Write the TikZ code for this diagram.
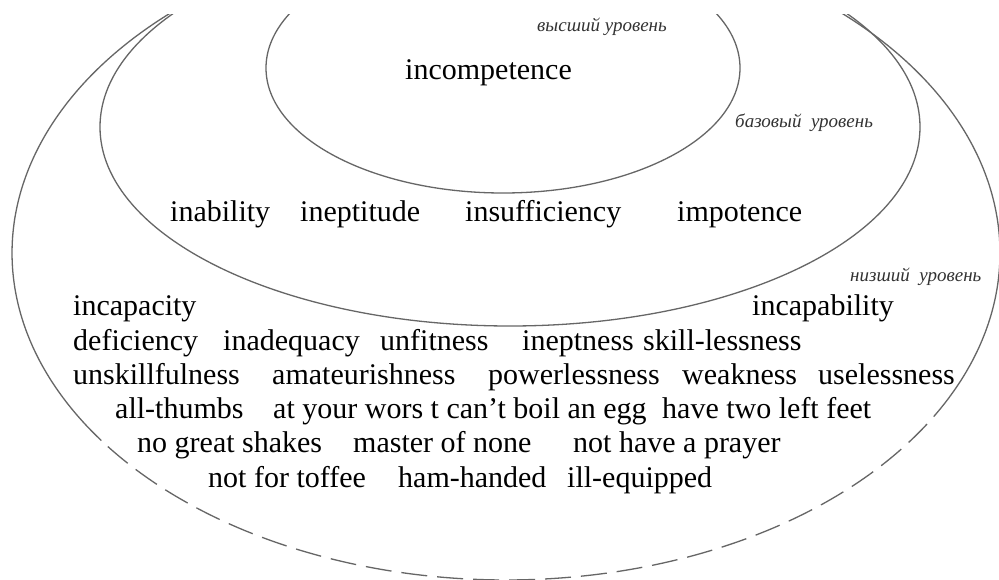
\documentclass[tikz,border=0pt]{standalone}
\usepackage{fontspec}
\setmainfont{Liberation Serif}
\begin{document}
\begin{tikzpicture}[x=1pt,y=-1pt,
  word/.style={anchor=base west, inner sep=0pt, font=\fontsize{30}{36}\selectfont, text=black},
  lvl/.style={anchor=base west, inner sep=0pt, font=\fontsize{19}{22}\selectfont\itshape, text=black!80},
  ring/.style={draw=black!60, line width=1.3pt},
  dashring/.style={ring, dash pattern=on 26pt off 10pt}]
\useasboundingbox[fill=white] (0,0) rectangle (999,580);
\begin{scope}
\clip (0,15) rectangle (999,581);
\draw[ring] (503,68) ellipse [x radius=237, y radius=125];
\draw[ring] (510,127) ellipse [x radius=410, y radius=199];
\draw[ring] plot[domain=145:386, samples=160, smooth] ({506+494*cos(\x)},{253+327*sin(\x)});
\draw[dashring] plot[domain=26:145, samples=100, smooth] ({506+494*cos(\x)},{253+327*sin(\x)});
\end{scope}
% level labels
\node[lvl] (top) at (537,32) {высший уровень};
\node[lvl] (base) at (735,128) {базовый\ \ уровень};
\node[lvl] (low) at (850,282) {низший\ \ уровень};
% top level
\node[word] (w0) at (405,80) {incompetence};
% base level
\node[word] (b1) at (170,222) {inability};
\node[word] (b2) at (300,222) {ineptitude};
\node[word] (b3) at (465,222) {insufficiency};
\node[word] (b4) at (677,222) {impotence};
% lower level
\node[word] (l1) at (73,316) {incapacity};
\node[word] (l2) at (752,316) {incapability};
\node[word] (l3) at (73,350) {deficiency};
\node[word] (l4) at (223,350) {inadequacy};
\node[word] (l5) at (380,350) {unfitness};
\node[word] (l6) at (522,350) {ineptness};
\node[word] (l7) at (643,350) {skill-lessness};
\node[word] (l8) at (73,384) {unskillfulness};
\node[word] (l9) at (272,384) {amateurishness};
\node[word] (l10) at (488,384) {powerlessness};
\node[word] (l11) at (682,384) {weakness};
\node[word] (l12) at (818,384) {uselessness};
\node[word] (l13) at (115,418) {all-thumbs};
\node[word] (l14) at (273,418) {at your wors t can’t boil an egg};
\node[word] (l15) at (662,418) {have two left feet};
\node[word] (l16) at (137,452) {no great shakes};
\node[word] (l17) at (353,452) {master of none};
\node[word] (l18) at (573,452) {not have a prayer};
\node[word] (l19) at (208,487) {not for toffee};
\node[word] (l20) at (398,487) {ham-handed};
\node[word] (l21) at (567,487) {ill-equipped};
\end{tikzpicture}
\end{document}
